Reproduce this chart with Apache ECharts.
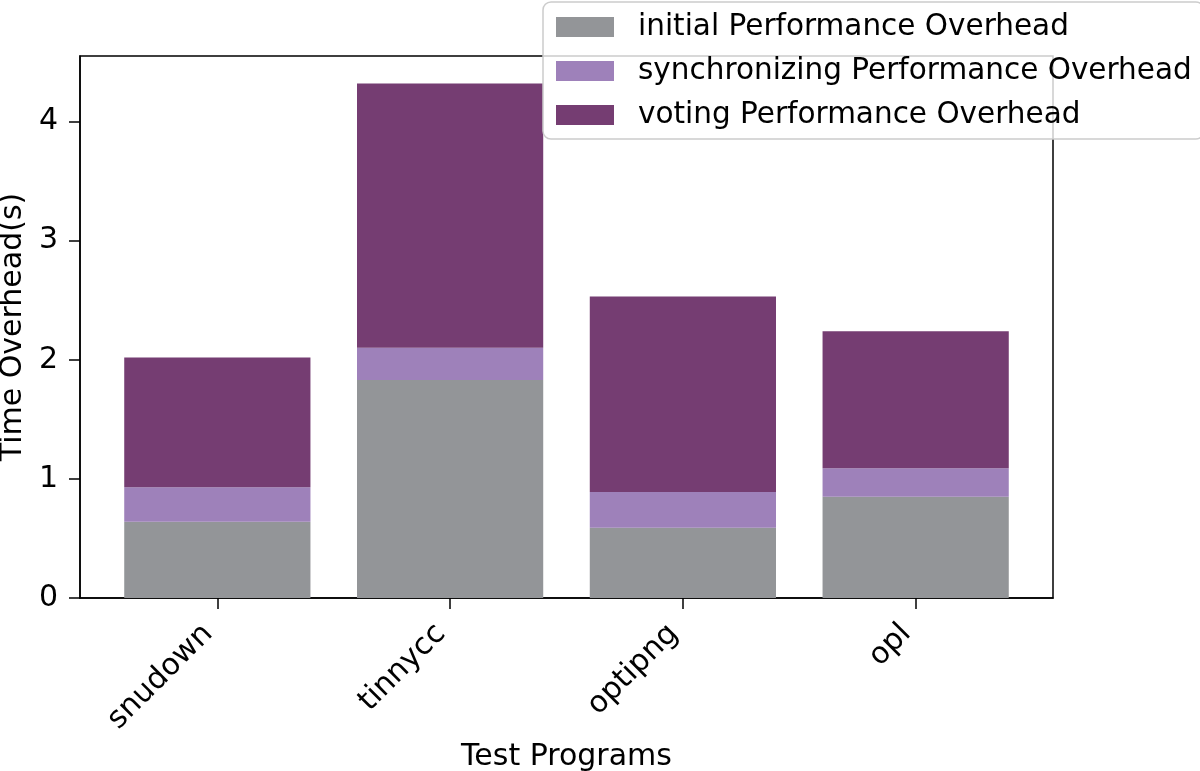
<!DOCTYPE html>
<html>
<head>
<meta charset="utf-8">
<script src="https://cdn.jsdelivr.net/npm/echarts@6/dist/echarts.min.js"></script>
<style>
  html, body { margin: 0; padding: 0; background: #fff; }
  #chart { width: 1200px; height: 771px; }
</style>
</head>
<body>
<div id="chart"></div>
<script>
// data
const programs = ['snudown', 'tinnycc', 'optipng', 'opl'];
const initialOverhead = [0.64, 1.83, 0.59, 0.85];
const syncOverhead = [0.29, 0.27, 0.30, 0.24];
const votingOverhead = [1.09, 2.22, 1.64, 1.15];
const yTicks = [0, 1, 2, 3, 4];

const FONT = 'DejaVu Sans';
const chart = echarts.init(document.getElementById('chart'));

// frame of the axes (matplotlib box), in px
const frameLeft = 80, frameRight = 147, frameTop = 56, frameBottom = 173;
const yMax = 4.55;
// matplotlib puts 5% margin around bars at 0..3 (width 0.8) => -0.59..3.59
const xPad = 0.59;
const frameW = 1200 - frameLeft - frameRight;
const unitW = frameW / (3 + 2 * xPad);
// inner grid holds exactly 4 category slots
const barsLeft = frameLeft + (xPad - 0.5) * unitW;
const barsRight = 1200 - (barsLeft + 4 * unitW);

function barSeries(name, values, color) {
  return {
    name: name,
    type: 'bar',
    stack: 'total',
    xAxisIndex: 0, yAxisIndex: 0,
    barWidth: 0.8 * unitW,
    itemStyle: { color: color },
    emphasis: { disabled: true },
    data: values
  };
}

const blackLine = { color: '#000', width: 1.5 };

chart.setOption({
  animation: false,
  textStyle: { fontFamily: FONT },
  grid: [
    {
      left: barsLeft, right: barsRight, top: frameTop, bottom: frameBottom,
      outerBoundsMode: 'none', containLabel: false
    },
    {
      left: frameLeft, right: frameRight, top: frameTop, bottom: frameBottom,
      outerBoundsMode: 'none', containLabel: false,
      show: true, borderColor: '#000', borderWidth: 1.5
    }
  ],
  legend: {
    orient: 'vertical',
    left: 543, top: 2,
    padding: [10, 12, 9, 13],
    itemWidth: 58, itemHeight: 20, itemGap: 14,
    backgroundColor: 'rgba(255,255,255,0.8)',
    borderColor: '#cccccc', borderWidth: 1.5, borderRadius: 8,
    icon: 'rect',
    textStyle: { fontFamily: FONT, fontSize: 29.5, lineHeight: 30, color: '#000', padding: [0, 0, 0, 19] },
    data: ['initial Performance Overhead', 'synchronizing Performance Overhead', 'voting Performance Overhead']
  },
  xAxis: [
    {
      gridIndex: 0,
      type: 'category',
      data: programs,
      name: 'Test Programs',
      nameLocation: 'middle',
      nameGap: 143,
      nameTextStyle: { fontFamily: FONT, fontSize: 30, color: '#000' },
      axisLine: { show: false },
      axisTick: { show: true, alignWithLabel: true, length: 11, lineStyle: blackLine },
      axisLabel: {
        rotate: 45, margin: 22, interval: 0,
        padding: [0, 13, 0, 0],
        fontFamily: FONT, fontSize: 30, color: '#000'
      }
    },
    {
      gridIndex: 1,
      type: 'value',
      min: 0, max: 1,
      axisLine: { show: true, onZero: false, lineStyle: blackLine },
      axisTick: { show: false },
      axisLabel: { show: false },
      splitLine: { show: false }
    }
  ],
  yAxis: [
    {
      gridIndex: 0,
      type: 'value',
      min: 0, max: yMax,
      show: false
    },
    {
      gridIndex: 1,
      type: 'value',
      min: 0, max: yMax,
      name: 'Time Overhead(s)',
      nameLocation: 'middle',
      nameGap: 48,
      nameTextStyle: { fontFamily: FONT, fontSize: 30, color: '#000' },
      splitLine: { show: false },
      axisLine: { show: true, onZero: false, lineStyle: blackLine },
      axisTick: { show: true, length: 11, lineStyle: blackLine, customValues: yTicks },
      axisLabel: {
        customValues: yTicks,
        margin: 22,
        fontFamily: FONT, fontSize: 30, color: '#000'
      }
    }
  ],
  series: [
    barSeries('initial Performance Overhead', initialOverhead, '#939598'),
    barSeries('synchronizing Performance Overhead', syncOverhead, '#9e81ba'),
    barSeries('voting Performance Overhead', votingOverhead, '#753d72')
  ]
});
</script>
</body>
</html>
